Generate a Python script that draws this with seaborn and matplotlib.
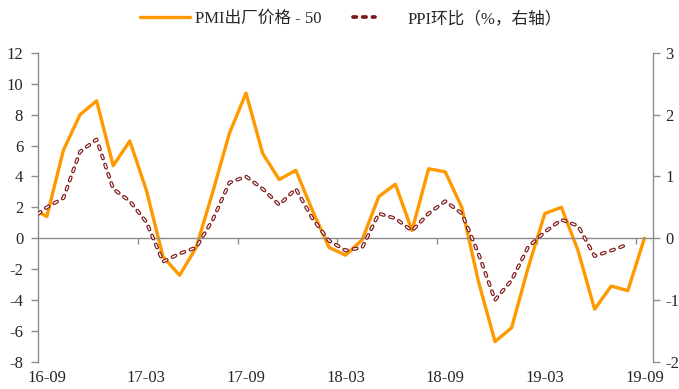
# PMI output price vs PPI m/m, 16-09 to 19-09

# Load libraries
import numpy as np
import pandas as pd
import matplotlib
matplotlib.use('Agg')
import matplotlib.pyplot as plt
import seaborn as sns
from matplotlib.lines import Line2D
from matplotlib.legend_handler import HandlerTuple

# Data (16-08 sits left of the axis and is clipped)
months = ['16-08', '16-09', '16-10', '16-11', '16-12',
          '17-01', '17-02', '17-03', '17-04', '17-05', '17-06',
          '17-07', '17-08', '17-09', '17-10', '17-11', '17-12',
          '18-01', '18-02', '18-03', '18-04', '18-05', '18-06',
          '18-07', '18-08', '18-09', '18-10', '18-11', '18-12',
          '19-01', '19-02', '19-03', '19-04', '19-05', '19-06',
          '19-07', '19-08', '19-09']
pmi_price = [2.0, 1.4, 5.7, 8.0, 8.9,
             4.7, 6.3, 3.1, -1.2, -2.4, -0.6,
             3.0, 6.8, 9.4, 5.5, 3.8, 4.4,
             1.8, -0.6, -1.1, -0.1, 2.7, 3.5,
             0.5, 4.5, 4.3, 2.0, -2.8, -6.7,
             -5.8, -1.9, 1.6, 2.0, -0.8, -4.6,
             -3.1, -3.4, 0.0]
ppi_mom = [0.3, 0.5, 0.65, 1.4, 1.6,
           0.8, 0.6, 0.26, -0.38, -0.25, -0.15,
           0.3, 0.9, 1.0, 0.8, 0.54, 0.8,
           0.32, -0.04, -0.2, -0.15, 0.4, 0.32,
           0.12, 0.4, 0.6, 0.4, -0.25, -1.0,
           -0.68, -0.14, 0.1, 0.3, 0.2, -0.29,
           -0.2, -0.1, np.nan]
tick_labels = ['16-09', '17-03', '17-09', '18-03', '18-09', '19-03', '19-09']

df = pd.DataFrame({'month': months, 'pmi': pmi_price, 'ppi': ppi_mom})
df['pos'] = np.arange(len(df)) - 1

# Style
sns.set_style('white')
plt.rcParams['font.family'] = ['Liberation Serif', 'Noto Sans CJK SC']
plt.rcParams['lines.scale_dashes'] = False
plt.rcParams['axes.unicode_minus'] = False
grey = '#8c8c8c'
orange = '#FF9900'
darkred = '#7F1818'

fig = plt.figure(figsize=(6.79, 3.89), dpi=100)
ax = fig.add_axes([0.0567, 0.0702, 0.9046, 0.7936])
ax2 = ax.twinx()

# Lines
sns.lineplot(data=df, x='pos', y='pmi', ax=ax, color=orange, lw=2.4)
dash = (0, (2.4, 4.6))
sns.lineplot(data=df, x='pos', y='ppi', ax=ax2, color=darkred, lw=2.7,
             linestyle=dash, dash_capstyle='round')
sns.lineplot(data=df, x='pos', y='ppi', ax=ax2, color='white', lw=1.0,
             linestyle=dash, dash_capstyle='round')

# Axes limits and ticks
ax.set_xlim(-0.5, 36.5)
ax.set_ylim(-8, 12)
ax.set_yticks(np.arange(-8, 13, 2))
ax2.set_ylim(-2, 3)
ax2.set_yticks(np.arange(-2, 4, 1))
ax.set_xticks(np.arange(5.5, 36, 6))
ax.set_xlabel('')
ax.set_ylabel('')
ax2.set_ylabel('')

for a in (ax, ax2):
    for s in a.spines.values():
        s.set_color(grey)
        s.set_linewidth(1.0)
    a.spines['top'].set_visible(False)
ax.spines['right'].set_visible(False)
ax2.spines['left'].set_visible(False)
ax2.spines['bottom'].set_visible(False)
ax.spines['bottom'].set_position(('data', 0))

ax.tick_params(axis='y', direction='out', length=5, width=1, color=grey,
               pad=6, labelsize=12, left=True)
ax2.tick_params(axis='y', direction='out', length=5, width=1, color=grey,
                pad=4, labelsize=12, right=True)
ax.tick_params(axis='x', direction='out', length=4, width=1, color=grey,
               bottom=True, labelbottom=False)

# Month labels along the bottom edge
for lab in tick_labels:
    i = months.index(lab) - 1
    ax.annotate(lab, xy=(i, 0), xycoords=('data', 'axes fraction'),
                xytext=(0, -6), textcoords='offset points',
                ha='center', va='top', fontsize=12)

# Legend
h1 = Line2D([], [], color=orange, lw=2.4)
h2o = Line2D([], [], color=darkred, lw=2.7, linestyle=dash, dash_capstyle='round')
h2i = Line2D([], [], color='white', lw=1.0, linestyle=dash, dash_capstyle='round')
fig.legend([h1, (h2o, h2i)], ['PMI出厂价格 - 50', 'PPI环比（%，右轴）'],
           handler_map={tuple: HandlerTuple(ndivide=None)},
           loc='center', bbox_to_anchor=(0.517, 0.951), ncol=2,
           frameon=False, fontsize=12, handlelength=3.0, handletextpad=0.3,
           columnspacing=1.9)

fig.savefig('out.png', dpi=100)
